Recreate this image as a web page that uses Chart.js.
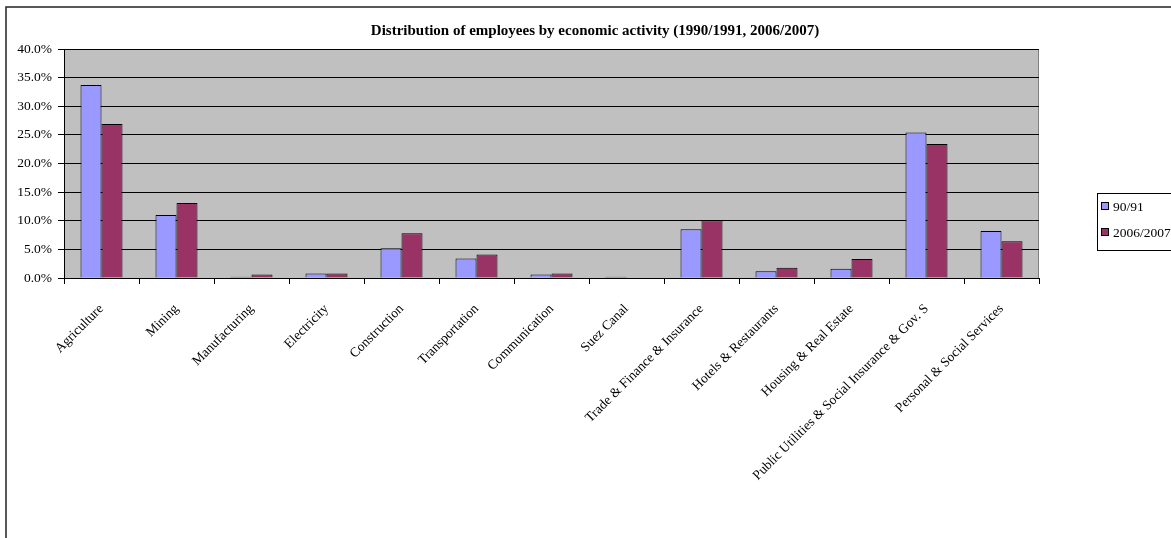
<!DOCTYPE html>
<html>
<head>
<meta charset="utf-8">
<script src="https://cdn.jsdelivr.net/npm/chart.js@4"></script>
<style>
  html, body { margin: 0; padding: 0; background: #fff; }
  #wrap { width: 1171px; height: 538px; position: relative; }
</style>
</head>
<body>
<div id="wrap"><canvas id="empChart"></canvas></div>
<script>
const categories = [
    'Agriculture', 'Mining', 'Manufacturing', 'Electricity', 'Construction',
    'Transportation', 'Communication', 'Suez Canal', 'Trade & Finance & Insurance',
    'Hotels & Restaurants', 'Housing & Real Estate',
    'Public Utilities & Social Insurance & Gov. S', 'Personal & Social Services'
];
const share9091 = [33.7, 11.0, 0.2, 0.8, 5.2, 3.4, 0.6, 0.2, 8.5, 1.2, 1.6, 25.4, 8.2];
const share0607 = [26.9, 13.1, 0.6, 0.8, 7.8, 4.1, 0.8, 0.0, 10.1, 1.8, 3.3, 23.4, 6.4];
const seriesNames = ['90/91', '2006/2007'];
const yTicks = [0, 5, 10, 15, 20, 25, 30, 35, 40];

const serif = "'Liberation Serif', 'Times New Roman', serif";

const decorPlugin = {
    id: 'decor',
    beforeDraw(chart) {
        const { ctx, chartArea: a } = chart;
        ctx.save();
        ctx.fillStyle = '#c0c0c0';
        ctx.fillRect(a.left, a.top, a.right - a.left, a.bottom - a.top);
        ctx.strokeStyle = '#808080';
        ctx.lineWidth = 1;
        ctx.strokeRect(a.left + 0.5, a.top + 0.5, a.right - a.left - 1, a.bottom - a.top);
        ctx.restore();
    },
    afterDraw(chart) {
        const { ctx } = chart;
        ctx.save();
        // outer frame
        ctx.strokeStyle = '#222';
        ctx.lineWidth = 1.5;
        ctx.strokeRect(6, 7, 1300, 700);
        // title
        ctx.fillStyle = '#000';
        ctx.font = 'bold 15px ' + serif;
        ctx.textAlign = 'center';
        ctx.textBaseline = 'middle';
        ctx.fillText('Distribution of employees by economic activity (1990/1991, 2006/2007)', 595, 31);
        // legend
        ctx.strokeStyle = '#000';
        ctx.lineWidth = 1;
        ctx.strokeRect(1097.5, 193.5, 100, 57);
        ctx.font = '13.5px ' + serif;
        ctx.textAlign = 'left';
        chart.data.datasets.forEach((ds, i) => {
            const y = 207 + i * 26;
            ctx.fillStyle = ds.backgroundColor;
            ctx.fillRect(1101.5, y - 4.5, 7, 7);
            ctx.strokeRect(1101.5, y - 4.5, 7, 7);
            ctx.fillStyle = '#000';
            ctx.fillText(ds.label, 1113, y);
        });
        ctx.restore();
    }
};

new Chart(document.getElementById('empChart').getContext('2d'), {
    type: 'bar',
    data: {
        labels: categories,
        datasets: [{
            label: seriesNames[0],
            data: share9091,
            backgroundColor: '#9999ff',
            borderColor: '#000',
            borderWidth: 1,
            categoryPercentage: 0.56,
            barPercentage: 1
        }, {
            label: seriesNames[1],
            data: share0607,
            backgroundColor: '#993366',
            borderColor: '#000',
            borderWidth: 1,
            categoryPercentage: 0.56,
            barPercentage: 1
        }]
    },
    options: {
        responsive: true,
        maintainAspectRatio: false,
        animation: false,
        layout: { padding: { left: 6, right: 132, top: 49, bottom: 0 } },
        plugins: {
            legend: { display: false },
            title: { display: false },
            tooltip: { enabled: false }
        },
        scales: {
            x: {
                offset: true,
                grid: { offset: true, drawOnChartArea: false, drawTicks: true, tickLength: 6, color: '#000' },
                border: { color: '#000' },
                ticks: {
                    autoSkip: false,
                    minRotation: 45,
                    maxRotation: 45,
                    padding: 17,
                    color: '#000',
                    font: { family: serif, size: 13.5 }
                },
                afterFit(scale) { scale.height = 260; }
            },
            y: {
                min: 0,
                max: 40,
                afterBuildTicks(scale) { scale.ticks = yTicks.map(v => ({ value: v })); },
                grid: { color: '#000', tickLength: 6 },
                border: { color: '#000' },
                ticks: {
                    padding: 6,
                    color: '#000',
                    font: { family: serif, size: 13.5 },
                    callback: v => v.toFixed(1) + '%'
                },
                afterFit(scale) { scale.width = 58; }
            }
        }
    },
    plugins: [decorPlugin]
});
</script>
</body>
</html>
